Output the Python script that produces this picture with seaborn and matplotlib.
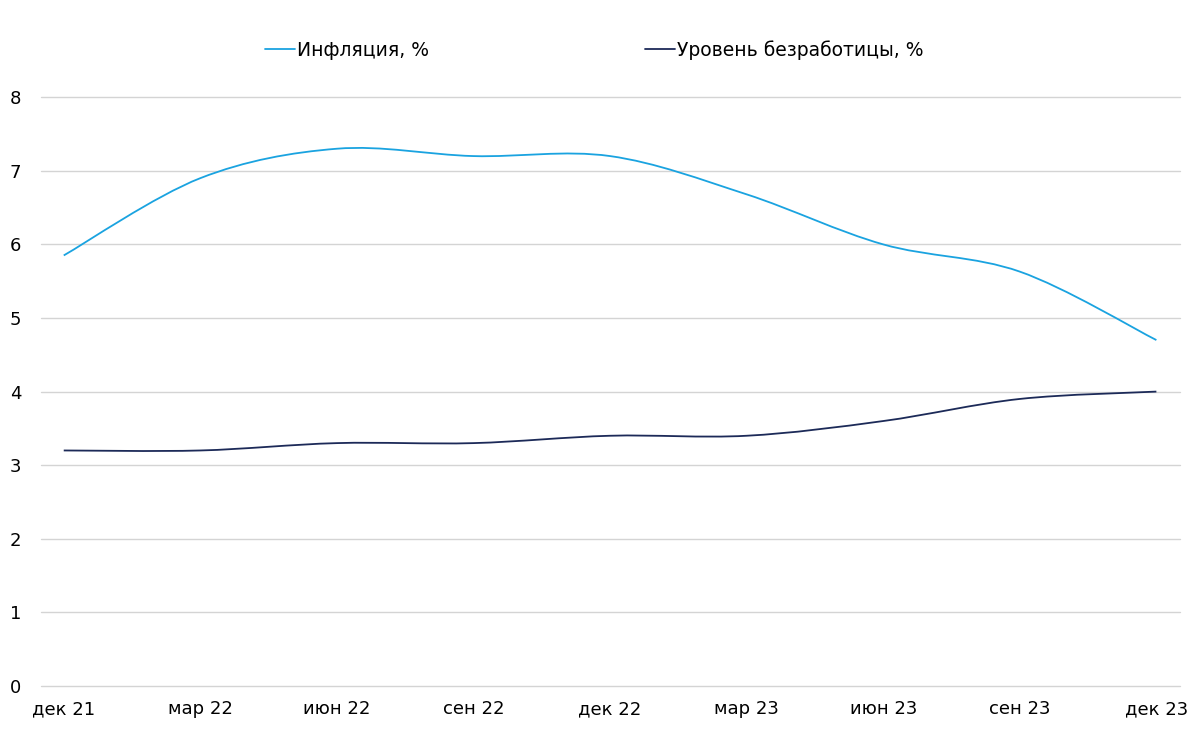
import numpy as np
import pandas as pd
import matplotlib
matplotlib.use("Agg")
import matplotlib.pyplot as plt
from matplotlib.path import Path
from matplotlib.patches import PathPatch
import seaborn as sns

# quarterly values
quarters = ["дек 21", "мар 22", "июн 22", "сен 22", "дек 22",
            "мар 23", "июн 23", "сен 23", "дек 23"]
inflation = [5.85, 6.9, 7.3, 7.2, 7.2, 6.68, 6.0, 5.63, 4.7]
unemployment = [3.2, 3.2, 3.3, 3.3, 3.4, 3.4, 3.6, 3.9, 4.0]

series_names = ["Инфляция, %", "Уровень безработицы, %"]
colors = ["#1AA3E0", "#1C2A58"]

df = pd.DataFrame({
    "pos": list(range(len(quarters))) * 2,
    "value": inflation + unemployment,
    "series": [series_names[0]] * len(quarters) + [series_names[1]] * len(quarters),
})

sns.set_theme(style="white")
plt.rcParams['font.family'] = ['DejaVu Sans']

fig = plt.figure(figsize=(12, 7.42), dpi=100)
ax = fig.add_axes([0.034, 0.0755, 0.949, 0.7935])

sns.lineplot(data=df, x="pos", y="value", hue="series", hue_order=series_names,
             palette=colors, linewidth=1.3, ax=ax)


def smooth_path(x, y):
    # Excel-like smoothing: Catmull-Rom segments as cubic Bezier curves
    pts = np.column_stack([x, y])
    n = len(pts)
    verts = [pts[0]]
    codes = [Path.MOVETO]
    for i in range(n - 1):
        p0 = pts[i - 1] if i > 0 else pts[i]
        p1 = pts[i]
        p2 = pts[i + 1]
        p3 = pts[i + 2] if i + 2 < n else pts[i + 1]
        verts += [p1 + (p2 - p0) / 6, p2 - (p3 - p1) / 6, p2]
        codes += [Path.CURVE4] * 3
    return Path(verts, codes)


# swap the straight seaborn lines for smoothed curves
for line in list(ax.lines):
    xd = np.asarray(line.get_xdata(), dtype=float)
    yd = np.asarray(line.get_ydata(), dtype=float)
    if len(xd) < 2:
        continue
    ax.add_patch(PathPatch(smooth_path(xd, yd), facecolor="none",
                           edgecolor=line.get_color(), linewidth=1.3, zorder=3))
    line.set_visible(False)

ax.set_xlim(-0.168, 8.17)
ax.set_ylim(0, 8)
ax.set_xticks(range(len(quarters)))
ax.set_xticklabels(quarters)
ax.set_yticks(range(0, 9))
ax.tick_params(axis="both", labelsize=13, length=0, colors="#000000")
ax.tick_params(axis="x", pad=10)
ax.tick_params(axis="y", pad=14)
ax.grid(axis="y", color="#d4d4d4", linewidth=1)
ax.set_axisbelow(True)
for gl in ax.get_ygridlines():
    gl.set_clip_on(False)
for s in ax.spines.values():
    s.set_visible(False)
ax.set_xlabel("")
ax.set_ylabel("")

sns.move_legend(ax, "center", bbox_to_anchor=(0.495, 0.933),
                bbox_transform=fig.transFigure, ncol=2, frameon=False,
                title=None, fontsize=13.5, handlelength=1.6,
                handletextpad=0.12, columnspacing=11.5)
for t in ax.get_legend().get_texts():
    t.set_color("#000000")

fig.savefig("out.png", dpi=100)
